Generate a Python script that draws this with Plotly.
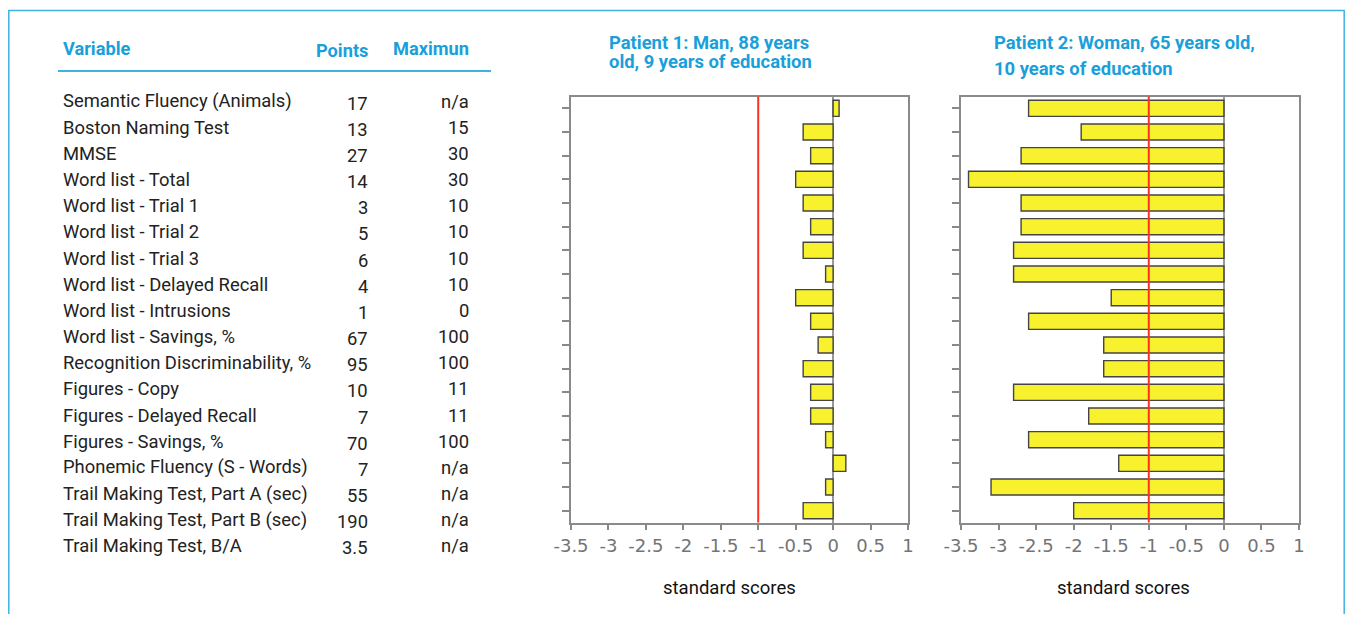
import plotly.graph_objects as go

# figure sized to fit inside the page body (8px default body margin)
W, H = 1337, 606
OFF = 8

variables = [
    "Semantic Fluency (Animals)", "Boston Naming Test", "MMSE", "Word list - Total",
    "Word list - Trial 1", "Word list - Trial 2", "Word list - Trial 3",
    "Word list - Delayed Recall", "Word list - Intrusions", "Word list - Savings, %",
    "Recognition Discriminability, %", "Figures - Copy", "Figures - Delayed Recall",
    "Figures - Savings, %", "Phonemic Fluency (S - Words)",
    "Trail Making Test, Part A (sec)", "Trail Making Test, Part B (sec)",
    "Trail Making Test, B/A",
]
points = ["17", "13", "27", "14", "3", "5", "6", "4", "1", "67", "95", "10", "7",
          "70", "7", "55", "190", "3.5"]
maximum = ["n/a", "15", "30", "30", "10", "10", "10", "10", "0", "100", "100", "11",
           "11", "100", "n/a", "n/a", "n/a", "n/a"]
patient1 = [0.08, -0.4, -0.3, -0.5, -0.4, -0.3, -0.4, -0.1, -0.5, -0.3, -0.2, -0.4,
            -0.3, -0.3, -0.1, 0.17, -0.1, -0.4]
patient2 = [-2.6, -1.9, -2.7, -3.4, -2.7, -2.7, -2.8, -2.8, -1.5, -2.6, -1.6, -1.6,
            -2.8, -1.8, -2.6, -1.4, -3.1, -2.0]
tick_vals = [-3.5, -3, -2.5, -2, -1.5, -1, -0.5, 0, 0.5, 1]
tick_text = ["-3.5", "-3", "-2.5", "-2", "-1.5", "-1", "-0.5", "0", "0.5", "1"]
threshold = -1
title1 = ["Patient 1: Man, 88 years", "old, 9 years of education"]
title2 = ["Patient 2: Woman, 65 years old,", "10 years of education"]
headers = ["Variable", "Points", "Maximun"]
axis_title = "standard scores"

BLUE = "#19a0da"
BORDER = "#3fb2e3"
TXT = "#222222"
FONT = "Roboto"


def px(x):
    return (x - OFF) / W


def py(y):
    return 1 - (y - OFF) / H


fig = go.Figure()

bar_style = dict(orientation="h", width=0.68, showlegend=False,
                 marker=dict(color="#f8f22e", line=dict(color="#444444", width=1.4)),
                 hoverinfo="x+y")
fig.add_trace(go.Bar(x=patient1, y=variables, xaxis="x", yaxis="y", **bar_style))
fig.add_trace(go.Bar(x=patient2, y=variables, xaxis="x2", yaxis="y2", **bar_style))

top, bottom = 96.5, 522.5
xcommon = dict(range=[-3.5, 1], tickvals=tick_vals, ticktext=tick_text,
               ticks="outside", ticklen=6, tickcolor="#888888", tickwidth=1.5,
               showline=True, linecolor="#8a8a8a", linewidth=1.5, mirror=True,
               showgrid=False, zeroline=True, zerolinecolor="#999999", zerolinewidth=1.5,
               tickfont=dict(family="DejaVu Sans", size=18, color="#747474"),
               automargin=False, fixedrange=True)
ycommon = dict(categoryorder="array", categoryarray=variables, range=[17.5, -0.5],
               showticklabels=False, ticks="outside", ticklen=7, tickcolor="#888888",
               tickwidth=1.5, showline=True, linecolor="#8a8a8a", linewidth=1.5,
               mirror=True, showgrid=False, automargin=False, fixedrange=True)

fig.update_layout(
    width=W, height=H,
    margin=dict(l=0, r=0, t=0, b=0, pad=0, autoexpand=False),
    paper_bgcolor="white", plot_bgcolor="white",
    xaxis=dict(domain=[px(571), px(908)], anchor="y", **xcommon),
    yaxis=dict(domain=[py(bottom), py(top)], anchor="x", **ycommon),
    xaxis2=dict(domain=[px(961), px(1299)], anchor="y2", **xcommon),
    yaxis2=dict(domain=[py(bottom), py(top)], anchor="x2", **ycommon),
)

shapes = [
    dict(type="rect", xref="paper", yref="paper", x0=px(8.8), x1=px(1344.2),
         y0=-0.05, y1=py(10.5), line=dict(color=BORDER, width=1.5)),
    dict(type="line", xref="paper", yref="paper", x0=px(58), x1=px(491),
         y0=py(71), y1=py(71), line=dict(color=BORDER, width=2)),
]
for xa, ya in [("x", "y domain"), ("x2", "y2 domain")]:
    shapes.append(dict(type="line", xref=xa, yref=ya, x0=threshold, x1=threshold,
                       y0=0, y1=1, layer="above", line=dict(color="#ff3020", width=2)))
fig.update_layout(shapes=shapes)

ann = []


def text(t, x, y, anchor, size, color, bold=False):
    ann.append(dict(text=f"<b>{t}</b>" if bold else t, x=px(x), y=py(y),
                    xref="paper", yref="paper", xanchor=anchor, yanchor="middle",
                    showarrow=False, font=dict(family=FONT, size=size, color=color)))


text(headers[0], 61, 48, "left", 18.2, BLUE, True)
text(headers[1], 370, 50, "right", 18.2, BLUE, True)
text(headers[2], 471, 48, "right", 18.2, BLUE, True)

row0, step = 101, 26.17
for i, (v, p, m) in enumerate(zip(variables, points, maximum)):
    yc = row0 + i * step
    text(v, 61, yc, "left", 18.4, TXT)
    text(p, 370, yc + 2, "right", 18.4, TXT)
    text(m, 471, yc, "right", 18.4, TXT)

text(title1[0], 607, 42, "left", 18.4, BLUE, True)
text(title1[1], 607, 61, "left", 18.4, BLUE, True)
text(title2[0], 992, 43, "left", 18.4, BLUE, True)
text(title2[1], 992, 69, "left", 18.4, BLUE, True)

for xc in [729, 1123]:
    text(axis_title, xc, 588, "center", 18.5, "#111111")

fig.update_layout(annotations=ann)
fig.write_html("out.html")
